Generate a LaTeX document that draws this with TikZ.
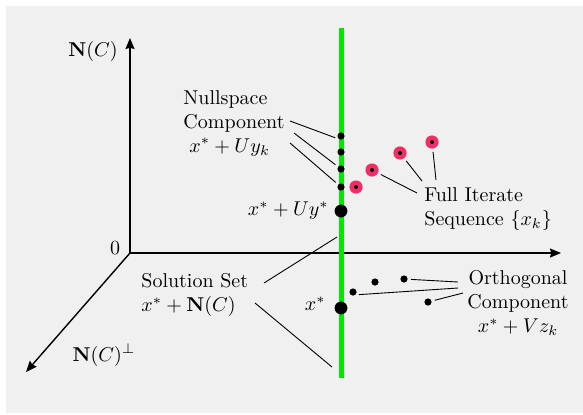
\documentclass[tikz,border=0pt]{standalone}
\usepackage{amsmath,amssymb}
\usetikzlibrary{arrows.meta}
\definecolor{panelgray}{RGB}{240,240,240}
\definecolor{solgreen}{RGB}{0,232,0}
\definecolor{iterred}{RGB}{240,45,105}

\begin{document}
\begin{tikzpicture}[x=0.5pt, y=-0.5pt,
    axis/.style={-{Stealth[length=5.5pt, width=4.5pt, inset=0.6pt]}, line width=0.7pt},
    leader/.style={line width=0.45pt, shorten >=1.5pt},
    txt/.style={inner sep=0pt, font=\normalsize},
    smalldot/.style={circle, fill=black, inner sep=0pt, minimum size=3.6pt},
    bigdot/.style={circle, fill=black, inner sep=0pt, minimum size=6.4pt},
    iterdot/.style={circle, fill=iterred, inner sep=0pt, minimum size=6.6pt,
      path picture={\fill[black] (path picture bounding box.center) circle (1pt);}}
  ]
  \useasboundingbox (0,0) rectangle (583,414);
  \fill[panelgray] (6,6) rectangle (583,413);

  % --- axes ---
  \coordinate (origin) at (130,253);
  \coordinate (nullend) at (130,38);
  \coordinate (xend) at (561,253);
  \coordinate (perpend) at (26,372);
  \draw[axis] (origin) -- (nullend);
  \draw[axis] (origin) -- (xend);
  \draw[axis] (origin) -- (perpend);
  \node[txt] (nulllabel) at (93,51) {$\mathbf{N}(C)$};
  \node[txt] (perplabel) at (104,355) {$\mathbf{N}(C)^{\perp}$};
  \node[txt] (zero) at (115,248) {$0$};

  % --- solution set x* + N(C) ---
  \coordinate (soltop) at (341,28);
  \coordinate (solbot) at (341,378);
  \draw[solgreen, line width=2.5pt] (soltop) -- (solbot);

  % --- points ---
  \foreach \y [count=\i] in {136,152,169,187}
    \node[smalldot] (n\i) at (341,\y) {};
  \node[bigdot] (xuy) at (341,211) {};
  \node[bigdot] (xstar) at (341,308) {};
  \foreach \p [count=\i] in {(356,187),(372,170),(400,153),(432,142)}
    \node[iterdot] (it\i) at \p {};
  \foreach \p [count=\i] in {(353,292),(375,282),(404,279),(428,302)}
    \node[smalldot] (o\i) at \p {};

  % --- labels ---
  \node[txt, align=left, anchor=west] (nullcomp) at (183,123)
    {Nullspace\\Component\\\hspace*{3pt}$x^*+Uy_k$};
  \node[txt, align=left, anchor=west] (fullseq) at (424,209)
    {Full Iterate\\Sequence $\{x_k\}$};
  \node[txt, align=left, anchor=west] (solset) at (141,295)
    {Solution Set\\$x^*+\mathbf{N}(C)$};
  \node[txt, align=center] (orthcomp) at (518,303)
    {Orthogonal\\Component\\$x^*+Vz_k$};
  \node[txt, anchor=east] (xuylabel) at (329,211) {$x^*+Uy^*$};
  \node[txt, anchor=east] (xstarlabel) at (326,304) {$x^*$};

  % --- leader lines ---
  \coordinate (nc1) at (290,121);
  \coordinate (nc2) at (294,133);
  \coordinate (nc3) at (290,143);
  \draw[leader] (nc1) -- (n1.south west);
  \draw[leader] (nc2) -- (n3);
  \draw[leader] (nc3) -- (n4);

  \coordinate (fs1) at (417,193);
  \coordinate (fs2) at (422,181);
  \coordinate (fs3) at (436,180);
  \draw[leader] (fs1) -- (it2);
  \draw[leader] (fs2) -- (it3);
  \draw[leader] (fs3) -- (it4);

  \coordinate (ss1) at (264,283);
  \coordinate (ss2) at (255,303);
  \coordinate (sa) at (337,237);
  \coordinate (sb) at (332,367);
  \draw[leader, shorten >=0pt] (ss1) -- (sa);
  \draw[leader, shorten >=0pt] (ss2) -- (sb);

  \coordinate (oc1) at (458,282);
  \coordinate (oc2) at (458,288);
  \coordinate (oc3) at (463,293);
  \draw[leader] (oc1) -- (o3);
  \draw[leader] (oc2) -- (o1.south east);
  \draw[leader] (oc3) -- (o4);
\end{tikzpicture}
\end{document}
